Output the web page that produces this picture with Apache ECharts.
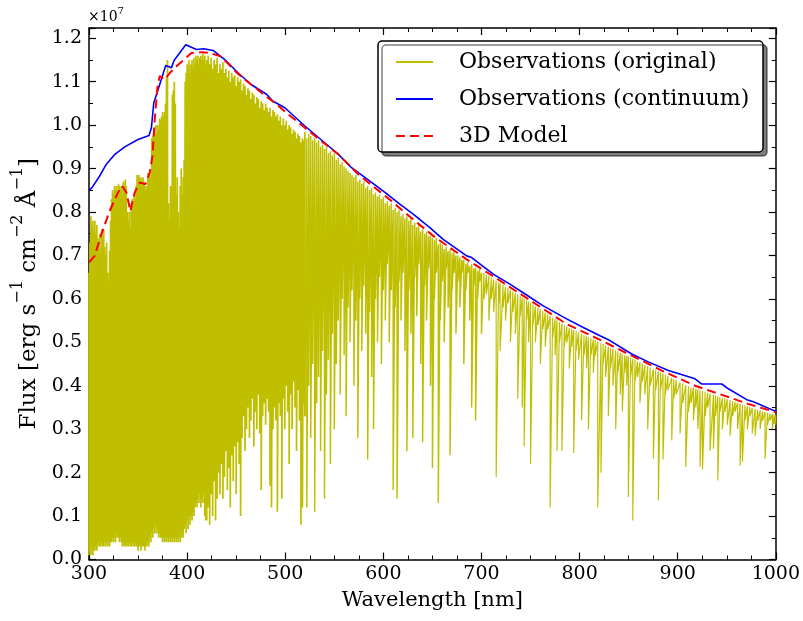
<!DOCTYPE html>
<html><head><meta charset="utf-8">
<script src="https://cdn.jsdelivr.net/npm/echarts@6/dist/echarts.min.js"></script>
<style>html,body{margin:0;padding:0;background:#fff}#c{width:803px;height:621px}</style>
</head><body><div id="c"></div>
<script>
// Observed spectrum: [wavelength nm, local top flux, line-core flux] (flux in 1e7 erg s-1 cm-2 A-1)
const obsLines = [
[300,0.66,0.01],[301,0.73,0.02],[302,0.79,0.01],[303,0.77,0.03],[304,0.78,0.01],[305,0.76,0.02],[306,0.78,0.02],[307,0.75,0.03],[308,0.77,0.02],[309,0.74,0.03],
[310,0.73,0.04],[311,0.75,0.03],[312,0.71,0.03],[313,0.76,0.04],[314,0.74,0.03],[315,0.76,0.03],[316,0.72,0.04],[317,0.70,0.03],[318,0.73,0.04],[319,0.66,0.03],
[320,0.64,0.04],[321,0.71,0.03],[322,0.78,0.04],[323,0.83,0.04],[324,0.85,0.05],[325,0.84,0.04],[326,0.86,0.05],[327,0.85,0.04],[328,0.86,0.06],[329,0.84,0.05],
[330,0.865,0.05],[331,0.86,0.04],[332,0.85,0.05],[333,0.86,0.04],[334,0.84,0.03],[335,0.87,0.04],[336,0.86,0.03],[337,0.875,0.03],[338,0.86,0.04],[339,0.80,0.03],
[340,0.78,0.03],[341,0.80,0.04],[342,0.76,0.03],[343,0.82,0.03],[344,0.83,0.04],[345,0.82,0.03],[346,0.84,0.03],[347,0.83,0.04],[348,0.86,0.03],[349,0.885,0.03],
[350,0.88,0.02],[351,0.885,0.03],[352,0.87,0.03],[353,0.88,0.02],[354,0.86,0.03],[355,0.88,0.03],[356,0.87,0.03],[357,0.86,0.02],[358,0.85,0.03],[359,0.86,0.03],
[360,0.89,0.04],[361,0.885,0.03],[362,0.89,0.05],[363,0.88,0.04],[364,0.97,0.06],[365,0.975,0.05],[366,0.98,0.07],[367,0.99,0.06],[368,1.0,0.08],[369,0.98,0.06],
[370,1.0,0.07],[371,0.99,0.05],[372,1.015,0.06],[373,1.01,0.05],[374,1.02,0.05],[375,1.03,0.04],[376,1.02,0.05],[377,1.03,0.04],[378,1.05,0.05],[379,1.11,0.04],
[380,1.15,0.05],[381,0.82,0.04],[382,0.78,0.05],[383,0.86,0.04],[384,0.80,0.05],[385,1.07,0.04],[386,1.08,0.05],[387,1.10,0.04],[388,1.05,0.05],[389,0.84,0.04],
[390,0.88,0.05],[391,0.80,0.04],[392,0.76,0.05],[393,0.86,0.04],[394,0.90,0.05],[395,0.84,0.06],[396,0.88,0.05],[397,0.92,0.07],[398,1.10,0.08],[399,1.12,0.06],
[400,1.14,0.09],[401,1.13,0.07],[402,1.15,0.10],[403,1.12,0.08],[404,1.14,0.10],[405,1.15,0.09],[406,1.13,0.11],[407,1.155,0.10],[408,1.14,0.12],[409,1.16,0.13],
[410,1.15,0.12],[411,1.16,0.14],[412,1.14,0.13],[413,1.155,0.15],[414,1.16,0.12],[415,1.15,0.14],[416,1.165,0.13],[417,1.15,0.15],[418,1.16,0.10],[419,1.14,0.09],
[420,1.15,0.09],[421.5,1.16,0.12],[423,1.14,0.08],[424.5,1.155,0.15],[426,1.13,0.10],[427.5,1.15,0.18],[429,1.14,0.09],[430.5,1.155,0.14],[432,1.12,0.20],[433.5,1.14,0.15],
[435,1.13,0.22],[436.5,1.145,0.14],[438,1.12,0.19],[439.5,1.13,0.25],[441,1.11,0.16],[442.5,1.125,0.21],[444,1.10,0.12],[445.5,1.12,0.24],[447,1.11,0.18],[448.5,1.115,0.26],
[450,1.09,0.15],[451.5,1.11,0.27],[453,1.10,0.22],[454.5,1.105,0.10],[456,1.08,0.28],[457.5,1.095,0.33],[459,1.09,0.25],[460.5,1.07,0.30],[462,1.085,0.35],[463.5,1.08,0.28],
[465,1.06,0.32],[466.5,1.075,0.37],[468,1.07,0.26],[469.5,1.05,0.34],[471,1.065,0.30],[472.5,1.06,0.38],[474,1.04,0.29],[475.5,1.055,0.16],[477,1.05,0.33],[478.5,1.035,0.36],
[480,1.05,0.31],[481.5,1.04,0.37],[483,1.03,0.34],[484.5,1.04,0.17],[486,1.02,0.12],[487.5,1.035,0.30],[489,1.03,0.35],[490.5,1.02,0.32],[492,1.025,0.11],[493.5,1.01,0.36],
[495,1.02,0.33],[496.5,1.00,0.14],[498,1.015,0.37],[499.5,1.0,0.30],[501,1.01,0.40],[502.5,0.99,0.34],[504,1.0,0.22],[505.5,0.995,0.38],[507,0.98,0.30],[508.5,0.99,0.41],
[510,0.985,0.35],[511.5,0.97,0.25],[513,0.98,0.39],[514.5,0.975,0.32],[516,0.96,0.08],[517.5,0.97,0.12],[519,0.965,0.36],
[520,0.985,0.33],[522,0.97,0.12],[524,0.98,0.40],[526,0.975,0.28],[528,0.965,0.45],[530,0.97,0.11],[532,0.96,0.36],[534,0.965,0.42],[536,0.95,0.25],[538,0.955,0.48],
[540,0.945,0.14],[542,0.95,0.38],[544,0.935,0.46],[546,0.94,0.22],[548,0.93,0.52],[550,0.935,0.30],[552,0.92,0.45],[554,0.925,0.55],[556,0.91,0.38],[558,0.915,0.60],
[560,0.905,0.47],[562,0.90,0.33],[564,0.895,0.58],[566,0.89,0.50],[568,0.885,0.62],[570,0.88,0.40],[572,0.885,0.55],[574,0.87,0.28],[576,0.875,0.60],[578,0.865,0.48],
[580,0.87,0.63],[582,0.855,0.52],[584,0.86,0.23],[586,0.85,0.57],[588,0.855,0.42],[590,0.84,0.30],[592,0.845,0.60],[594,0.835,0.50],[596,0.84,0.65],[598,0.83,0.45],
[600,0.835,0.62],[602,0.82,0.55],[604,0.825,0.68],[606,0.815,0.50],[608,0.82,0.62],[610,0.805,0.16],[612,0.81,0.58],[614,0.80,0.14],[616,0.805,0.64],[618,0.79,0.55],
[620,0.795,0.66],[622,0.785,0.48],[624,0.79,0.25],[626,0.78,0.62],[628,0.785,0.52],[630,0.77,0.28],[632,0.775,0.65],[634,0.765,0.56],[636,0.77,0.68],[638,0.755,0.45],
[640,0.76,0.27],[642,0.75,0.63],[644,0.755,0.55],[646,0.745,0.67],[648,0.745,0.40],[650,0.74,0.21],[652,0.735,0.60],[654,0.74,0.66],[656,0.725,0.13],[658,0.73,0.55],
[660,0.725,0.64],[662,0.715,0.50],[664,0.72,0.67],[666,0.71,0.58],[668,0.715,0.24],[670,0.705,0.62],[672,0.71,0.66],[674,0.70,0.52],[676,0.70,0.64],[678,0.695,0.58],
[680,0.69,0.66],[682,0.69,0.45],[684,0.68,0.62],[686,0.685,0.66],[688,0.675,0.55],[690,0.68,0.35],[692,0.67,0.63],[694,0.672,0.32],[696,0.665,0.60],[698,0.668,0.64],
[700,0.66,0.52],[702.5,0.66,0.60],[705,0.656,0.61],[707.5,0.653,0.55],[710,0.649,0.60],[712.5,0.645,0.57],[715,0.642,0.19],[717.5,0.638,0.59],[719,0.636,0.48],[722,0.632,0.58],
[724.5,0.628,0.55],[727,0.625,0.59],[729.5,0.621,0.50],[732,0.617,0.57],[734.5,0.614,0.52],[737,0.61,0.37],[739.5,0.606,0.56],[741.5,0.603,0.35],[743.5,0.601,0.26],[746,0.597,0.55],
[748,0.594,0.50],[750,0.591,0.22],[752.5,0.587,0.54],[755,0.583,0.50],[757.5,0.58,0.54],[760,0.576,0.45],[762.5,0.572,0.53],[765,0.569,0.49],[767.5,0.565,0.53],[770,0.561,0.12],
[772.5,0.557,0.51],[775,0.554,0.47],[777,0.551,0.25],[779.5,0.547,0.50],[782,0.543,0.25],[784.5,0.54,0.49],[787,0.536,0.50],[789.5,0.533,0.44],[792,0.531,0.49],[794,0.528,0.245],
[796.5,0.526,0.48],[799,0.523,0.46],[802,0.52,0.32],[804.5,0.517,0.47],[807,0.515,0.44],[809,0.512,0.30],[811.5,0.51,0.47],[814,0.507,0.43],[816,0.505,0.47],[818.5,0.502,0.12],
[821.8,0.499,0.20],[824,0.496,0.45],[826.5,0.493,0.42],[829.3,0.49,0.33],[831.5,0.487,0.44],[834,0.485,0.40],[836.8,0.482,0.30],[839,0.479,0.43],[841.5,0.476,0.38],[843.5,0.474,0.34],
[846,0.471,0.43],[848,0.469,0.40],[849.7,0.467,0.144],[852,0.464,0.42],[854.2,0.462,0.09],[856.5,0.459,0.41],[859,0.456,0.42],[861.5,0.454,0.36],[864,0.451,0.41],[866.5,0.448,0.38],
[869.4,0.445,0.30],[872,0.442,0.40],[875.2,0.438,0.232],[877.5,0.436,0.39],[880.3,0.433,0.136],[882.5,0.43,0.39],[885,0.428,0.23],[887.5,0.425,0.38],[890,0.422,0.39],[893.9,0.418,0.274],
[896,0.415,0.37],[898.5,0.413,0.38],[902.4,0.408,0.29],[905,0.405,0.36],[908.2,0.402,0.213],[911,0.399,0.34],[913.5,0.396,0.36],[916,0.396,0.32],[918.5,0.393,0.35],[920.5,0.392,0.30],
[922.8,0.39,0.213],[925.3,0.388,0.207],[928,0.386,0.33],[930.5,0.384,0.35],[933,0.382,0.25],[936.4,0.379,0.255],[938.5,0.378,0.33],[940.9,0.376,0.182],[943,0.374,0.34],[945.5,0.372,0.30],
[948,0.371,0.34],[950.5,0.369,0.31],[953.4,0.367,0.285],[956,0.365,0.33],[958.5,0.363,0.34],[961,0.361,0.30],[963.6,0.359,0.216],[966,0.357,0.225],[968.5,0.355,0.32],[971,0.353,0.30],
[973.5,0.351,0.33],[976,0.349,0.29],[978.9,0.347,0.285],[981.5,0.345,0.32],[984,0.343,0.30],[986.5,0.341,0.32],[989,0.34,0.232],[991.5,0.338,0.31],[994,0.336,0.32],[996.5,0.335,0.30],
[998.3,0.334,0.312],[1000,0.333,0.31]
];

// Observed continuum (blue): [wavelength, flux]
const continuum = [
[300,0.85],[303,0.856],[310.9,0.883],[317.7,0.910],[326,0.932],[336.4,0.950],[350,0.967],[361.2,0.976],[363.6,0.994],[366,1.051],
[369.3,1.074],[378.2,1.137],[384,1.132],[386.7,1.149],[398.6,1.185],[409.5,1.174],[417,1.176],[426.5,1.172],[438.4,1.151],[452,1.120],
[465.6,1.093],[480.9,1.071],[487.6,1.055],[499.6,1.040],[520,0.998],[542,0.956],[554,0.933],[567.6,0.902],[588,0.868],[601.6,0.845],
[616.8,0.818],[630.4,0.795],[647.4,0.764],[661,0.737],[684.9,0.699],[690,0.695],[712,0.657],[729,0.634],[746,0.609],[763,0.584],
[786.8,0.554],[803.8,0.534],[820.8,0.515],[831,0.504],[853.1,0.473],[870,0.455],[890.5,0.435],[917.7,0.416],[924.5,0.404],[944.9,0.404],
[951.6,0.393],[970.4,0.368],[977.1,0.363],[1000,0.341]
];

// 3D model (red dashed): [wavelength, flux]
const model3D = [
[300,0.684],[305.8,0.699],[312.6,0.749],[321,0.802],[329.6,0.845],[333.7,0.860],[338.1,0.845],[342.2,0.802],[346.6,0.845],[351.7,0.868],
[357.5,0.864],[361.9,0.891],[364.7,0.929],[367,1.013],[369.7,1.086],[372.1,1.113],[377.2,1.105],[382.3,1.120],[390.8,1.139],[404.4,1.166],
[414.6,1.168],[423,1.166],[433.3,1.159],[441.7,1.142],[450,1.122],[460,1.103],[470,1.085],[480,1.067],[490,1.050],[503,1.025],
[520,0.994],[537,0.963],[554,0.933],[574.3,0.887],[591.3,0.856],[608.4,0.825],[620.2,0.802],[650.8,0.745],[684.9,0.691],[718.8,0.642],
[752.8,0.592],[786.8,0.542],[816,0.511],[849.7,0.473],[883.7,0.435],[917.7,0.400],[951.6,0.374],[972,0.358],[1000,0.339]
];

const seriesNames = ['Observations (original)', 'Observations (continuum)', '3D Model'];

// spectrum drawn as vertical absorption spikes; split in wavelength bands only for stroke width
const bandEdges = [520, 700, 1001];
const bandWidths = [1.7, 1.45, 1.15];
const obsBands = bandEdges.map(() => []);
obsLines.forEach(r => {
  let b = 0; while (r[0] > bandEdges[b]) b++;
  obsBands[b].push([r[0], r[1]]); obsBands[b].push([r[0], r[2]]);
});
for (let b = 1; b < obsBands.length; b++) obsBands[b].unshift(obsBands[b - 1][obsBands[b - 1].length - 1]);

const FONT = 'DejaVu Serif';
const axisLineStyle = {color: '#000', width: 1.5};
function xAx(pos, showLabel) {
  return {
    type: 'value', position: pos, min: 300, max: 1000, interval: 100,
    axisLine: {show: true, onZero: false, lineStyle: axisLineStyle},
    axisTick: {show: true, inside: true, length: 7, lineStyle: {color: '#000', width: 1.2}},
    minorTick: {show: true, splitNumber: 4, length: 4, lineStyle: {color: '#000', width: 1}},
    splitLine: {show: false},
    axisLabel: {show: showLabel, color: '#000', fontFamily: FONT, fontSize: 19, margin: 5,
      formatter: v => String(Math.round(v))},
    name: showLabel ? 'Wavelength [nm]' : '', nameLocation: 'middle', nameGap: 31,
    nameTextStyle: {color: '#000', fontFamily: FONT, fontSize: 21}
  };
}
function yAx(pos, showLabel) {
  return {
    type: 'value', position: pos, min: 0, max: 1.2236, interval: 0.1,
    axisLine: {show: true, onZero: false, lineStyle: axisLineStyle},
    axisTick: {show: true, inside: true, length: 7, lineStyle: {color: '#000', width: 1.2}},
    minorTick: {show: true, splitNumber: 2, length: 4, lineStyle: {color: '#000', width: 1}},
    splitLine: {show: false},
    axisLabel: {show: showLabel, color: '#000', fontFamily: FONT, fontSize: 19, margin: 7,
      formatter: v => (v > 1.201 ? '' : v.toFixed(1))},
    name: showLabel ? '{a|Flux [erg s}{s|−1}{a| cm}{s|−2}{a| Å}{s|−1}{a|]}' : '',
    nameLocation: 'middle', nameGap: 36,
    nameTextStyle: {color: '#000', fontFamily: FONT, fontSize: 23,
      rich: {
        a: {fontFamily: FONT, fontSize: 23, color: '#000', lineHeight: 31, verticalAlign: 'bottom'},
        s: {fontFamily: FONT, fontSize: 16, color: '#000', verticalAlign: 'top'}
      }}
  };
}

const obsSeries = obsBands.map((d, i) => ({
  type: 'line', name: seriesNames[0], data: d, symbol: 'none', silent: true,
  lineStyle: {color: '#bfbf00', width: bandWidths[i]}, itemStyle: {color: '#bfbf00'}, z: 2
}));

const chart = echarts.init(document.getElementById('c'), null, {renderer: 'canvas'});
chart.setOption({
  animation: false,
  backgroundColor: '#fff',
  grid: {left: 89, right: 27, top: 28, bottom: 61.5},
  xAxis: [xAx('bottom', true), xAx('top', false)],
  yAxis: [yAx('left', true), yAx('right', false)],
  legend: {
    orient: 'vertical', left: 395, top: 50, padding: 0,
    itemWidth: 37, itemHeight: 2, itemGap: 13, selectedMode: false, z: 10,
    itemStyle: {opacity: 0},
    textStyle: {fontFamily: FONT, fontSize: 22, color: '#000', lineHeight: 24, padding: [0, 0, 0, 21]},
    data: seriesNames
  },
  graphic: [
    {type: 'rect', z: 5, shape: {x: 378, y: 41, width: 385, height: 111, r: 4},
     style: {fill: '#fff', stroke: '#000', lineWidth: 1.5, shadowColor: 'rgba(0,0,0,0.5)', shadowOffsetX: 4, shadowOffsetY: 4, shadowBlur: 0}},
    {type: 'text', x: 88, y: 6, z: 5,
     style: {text: '{a|×10}{s|7}', rich: {
       a: {fontFamily: FONT, fontSize: 14, fill: '#000', lineHeight: 18, verticalAlign: 'bottom'},
       s: {fontFamily: FONT, fontSize: 10, fill: '#000', verticalAlign: 'top'}}}}
  ],
  series: obsSeries.concat([
    {type: 'line', name: seriesNames[1], data: continuum, symbol: 'none', silent: true,
     lineStyle: {color: '#0000ff', width: 1.6}, itemStyle: {color: '#0000ff'}, z: 3},
    {type: 'line', name: seriesNames[2], data: model3D, symbol: 'none', silent: true,
     lineStyle: {color: '#ff0000', width: 2, type: [9, 5]}, itemStyle: {color: '#ff0000'}, z: 4}
  ])
});
</script></body></html>
